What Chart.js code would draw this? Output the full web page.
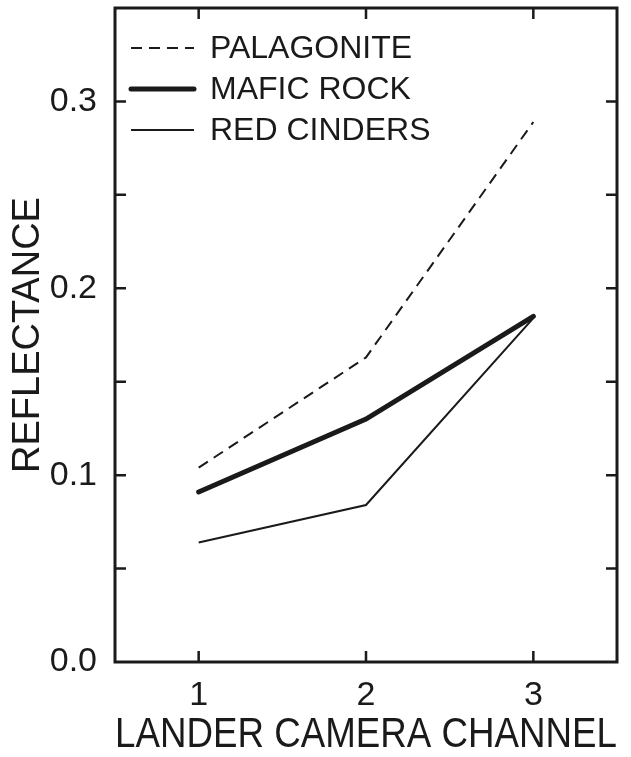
<!DOCTYPE html>
<html>
<head>
<meta charset="utf-8">
<script src="https://cdn.jsdelivr.net/npm/chart.js@4.4.1/dist/chart.umd.min.js"></script>
<style>
  html, body { margin: 0; padding: 0; background: #fff; }
  #wrap { width: 631px; height: 757px; position: relative; }
</style>
</head>
<body>
<div id="wrap"><canvas id="reflChart"></canvas></div>
<script>
// channels and reflectance
const channels = [1, 2, 3];
const palagonite = [0.104, 0.163, 0.289];
const maficRock = [0.091, 0.130, 0.185];
const redCinders = [0.064, 0.084, 0.184];

const yTicks = [0, 0.05, 0.1, 0.15, 0.2, 0.25, 0.3, 0.35];
const yLabelled = [0, 0.1, 0.2, 0.3];

const INK = '#1a1a1a';
const FONT = '"Liberation Sans Narrow", "Liberation Sans", "DejaVu Sans Condensed", sans-serif';

const toPoints = vals => vals.map((v, i) => ({ x: channels[i], y: v }));

// frame with inward ticks + legend drawn inside the plot
const framePlugin = {
    id: 'frame',
    afterDraw(chart) {
        const { ctx, chartArea: a, scales } = chart;
        ctx.save();
        ctx.strokeStyle = INK;
        ctx.lineWidth = 3;
        ctx.strokeRect(a.left, a.top, a.right - a.left, a.bottom - a.top);

        ctx.lineWidth = 2.5;
        const len = 11;
        channels.forEach(c => {
            const x = scales.x.getPixelForValue(c);
            ctx.beginPath();
            ctx.moveTo(x, a.bottom); ctx.lineTo(x, a.bottom - len);
            ctx.moveTo(x, a.top); ctx.lineTo(x, a.top + len);
            ctx.stroke();
        });
        yTicks.slice(1, -1).forEach(t => {
            const y = scales.y.getPixelForValue(t);
            ctx.beginPath();
            ctx.moveTo(a.left, y); ctx.lineTo(a.left + len, y);
            ctx.moveTo(a.right, y); ctx.lineTo(a.right - len, y);
            ctx.stroke();
        });

        // legend
        ctx.font = '32px ' + FONT;
        ctx.fillStyle = INK;
        ctx.textBaseline = 'middle';
        chart.data.datasets.forEach((ds, i) => {
            const y = a.top + 40 + i * 41;
            ctx.beginPath();
            ctx.lineWidth = ds.borderWidth;
            ctx.setLineDash(ds.borderDash || []);
            ctx.lineCap = ds.borderWidth > 3 ? 'round' : 'butt';
            ctx.moveTo(a.left + 16, y); ctx.lineTo(a.left + 79, y);
            ctx.stroke();
            ctx.setLineDash([]);
            ctx.fillText(ds.label, a.left + 95, y + 1);
        });
        ctx.restore();
    }
};

new Chart(document.getElementById('reflChart'), {
    type: 'scatter',
    data: {
        datasets: [
            { label: 'PALAGONITE', data: toPoints(palagonite), showLine: true,
              borderColor: INK, borderWidth: 2, borderDash: [11, 7], pointRadius: 0 },
            { label: 'MAFIC ROCK', data: toPoints(maficRock), showLine: true,
              borderColor: INK, borderWidth: 5, pointRadius: 0, borderCapStyle: 'round' },
            { label: 'RED CINDERS', data: toPoints(redCinders), showLine: true,
              borderColor: INK, borderWidth: 2, pointRadius: 0 }
        ]
    },
    options: {
        responsive: true,
        maintainAspectRatio: false,
        animation: false,
        layout: { padding: { left: 0, right: 14, top: 8, bottom: 0 } },
        plugins: { legend: { display: false }, tooltip: { enabled: false } },
        scales: {
            x: {
                type: 'linear', min: 0.5, max: 3.5,
                afterBuildTicks: s => { s.ticks = channels.map(v => ({ value: v })); },
                afterFit: s => { s.height = 95; s.paddingLeft = 0; s.paddingRight = 0; },
                grid: { display: false }, border: { display: false },
                ticks: { color: INK, font: { family: FONT, size: 34 }, padding: 5,
                         callback: v => String(v) },
                title: { display: true, text: 'LANDER CAMERA CHANNEL', color: INK,
                         font: { family: FONT, size: 42 }, padding: { top: 0, bottom: -4 } }
            },
            y: {
                min: 0, max: 0.35,
                afterBuildTicks: s => { s.ticks = yTicks.map(v => ({ value: v })); },
                afterFit: s => { s.width = 115; s.paddingTop = 0; s.paddingBottom = 0; },
                grid: { display: false }, border: { display: false },
                ticks: { color: INK, font: { family: FONT, size: 34 }, padding: 10,
                         callback: v => yLabelled.some(l => Math.abs(l - v) < 1e-6) ? v.toFixed(1) : '' },
                title: { display: true, text: 'REFLECTANCE', color: INK,
                         font: { family: FONT, size: 38 }, padding: { top: 6, bottom: 0 } }
            }
        }
    },
    plugins: [framePlugin]
});
</script>
</body>
</html>
